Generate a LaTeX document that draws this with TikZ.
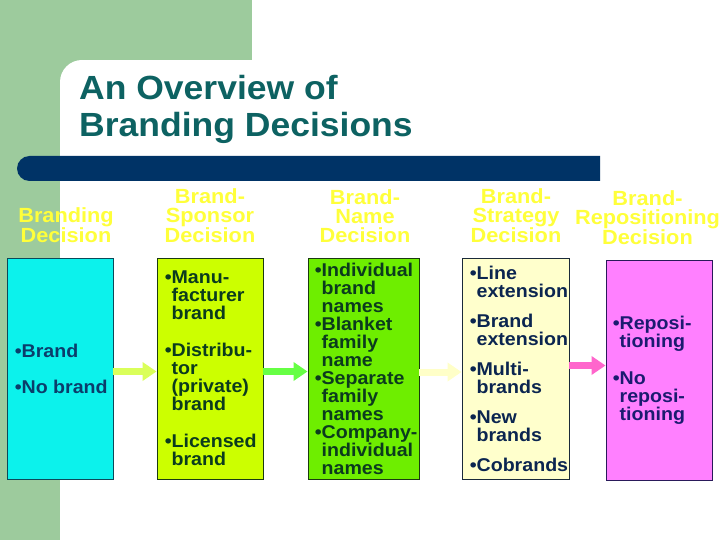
\documentclass[tikz,border=0pt]{standalone}
\usepackage{fontspec}
\setmainfont{Liberation Sans}[FakeStretch=1.06]
\usetikzlibrary{arrows.meta}
\definecolor{sage}{HTML}{9DCB9D}
\definecolor{barblue}{HTML}{003366}
\definecolor{titleteal}{HTML}{0D6262}
\definecolor{hdryellow}{HTML}{FFFF3A}
\definecolor{fillA}{HTML}{0CF2EC}
\definecolor{fillB}{HTML}{CCFF00}
\definecolor{fillC}{HTML}{6EEE00}
\definecolor{fillD}{HTML}{FFFFCC}
\definecolor{fillE}{HTML}{FF80FF}
\definecolor{edgeA}{HTML}{0B4A5A}
\definecolor{edgeB}{HTML}{1A3A10}
\definecolor{edgeD}{HTML}{1A2A3A}
\definecolor{edgeE}{HTML}{2A1A5A}
\definecolor{txtA}{HTML}{0B3D6B}
\definecolor{txtB}{HTML}{0B3B1E}
\definecolor{txtD}{HTML}{0B2550}
\definecolor{txtE}{HTML}{1B1B70}
\definecolor{arrA}{HTML}{DAFF5A}
\definecolor{arrB}{HTML}{66FF44}
\definecolor{arrC}{HTML}{FFFFC8}
\definecolor{arrD}{HTML}{FF66CC}
\newcommand\bl{\textbullet}
\newcommand\hb{\hphantom{\textbullet}}
\begin{document}
\begin{tikzpicture}[x=1pt,y=-1pt,
  hdr/.style={anchor=south, inner sep=0pt, align=center, text=hdryellow,
    font=\fontsize{20.5}{19}\selectfont\bfseries},
  boxst/.style={draw, line width=0.9pt, inner sep=0pt, minimum height=221pt},
  btxt/.style={anchor=west, inner sep=0pt, align=left,
    font=\fontsize{18.5}{18}\selectfont\bfseries},
  arr/.style={line width=7pt, -{Triangle[length=14pt,width=18pt]}}]
\useasboundingbox (0,0) rectangle (720,540);
\fill[white] (0,0) rectangle (720,540);
% green frame
\fill[sage] (0,0) rectangle (252,60);
\fill[sage] (0,0) rectangle (60,540);
\fill[sage] (60,60) rectangle (82,82);
\fill[white] (82,82) circle (22pt);
% bar
\fill[barblue] (600,156) [rounded corners=12.5pt] -- (17,156) -- (17,181) [sharp corners] -- (600,181) -- cycle;
% title
\node[anchor=north west, inner sep=0pt, align=left, text=titleteal,
  font=\fontsize{33.5}{37}\selectfont\bfseries] (title) at (79,75.5)
  {An Overview of\\Branding Decisions};
% headers
\node[hdr] (h1) at (66,243) {Branding\\Decision};
\node[hdr] (h2) at (210,243) {Brand-\\Sponsor\\Decision};
\node[hdr] (h3) at (365,243) {Brand-\\Name\\Decision};
\node[hdr] (h4) at (516,243) {Brand-\\Strategy\\Decision};
\node[hdr] (h5) at (647.5,245) {Brand-\\Repositioning\\Decision};
% boxes
\node[boxst, fill=fillA, draw=edgeA, minimum width=106pt] (b1) at (60,368.5) {};
\node[boxst, fill=fillB, draw=edgeB, minimum width=106pt] (b2) at (210,368.5) {};
\node[boxst, fill=fillC, draw=edgeB, minimum width=111pt] (b3) at (363.5,368.5) {};
\node[boxst, fill=fillD, draw=edgeD, minimum width=107pt] (b4) at (515.5,368.5) {};
\node[boxst, fill=fillE, draw=edgeE, minimum width=106pt, minimum height=220pt] (b5) at (659,370) {};
% box texts
\node[btxt, text=txtA] (t1) at ([xshift=8pt]b1.west) {\bl Brand\\[18pt]\bl No brand};
\node[btxt, text=txtB] (t2) at ([xshift=8pt]b2.west)
  {\bl Manu-\\\hb facturer\\\hb brand\\[19pt]\bl Distribu-\\\hb tor\\\hb (private)\\\hb brand\\[19pt]\bl Licensed\\\hb brand};
\node[btxt, text=txtB] (t3) at ([xshift=7pt]b3.west)
  {\bl Individual\\\hb brand\\\hb names\\\bl Blanket\\\hb family\\\hb name\\\bl Separate\\\hb family\\\hb names\\\bl Company-\\\hb individual\\\hb names};
\node[btxt, text=txtD] (t4) at ([xshift=8pt]b4.west)
  {\bl Line\\\hb extension\\[12pt]\bl Brand\\\hb extension\\[12pt]\bl Multi-\\\hb brands\\[12pt]\bl New\\\hb brands\\[12pt]\bl Cobrands};
\node[btxt, text=txtE] (t5) at ([xshift=7pt]b5.west)
  {\bl Reposi-\\\hb tioning\\[19pt]\bl No\\\hb reposi-\\\hb tioning};
% arrows
\coordinate (a1) at ([yshift=-3pt]b1.east);
\coordinate (a2) at ([yshift=-3pt]b2.east);
\coordinate (a3) at ([yshift=-3.5pt]b3.east);
\coordinate (a4) at ([yshift=3pt]b4.east);
\draw[arr, arrA] (a1) -- (a1 -| b2.west);
\draw[arr, arrB] (a2) -- (a2 -| b3.west);
\draw[arr, arrC] (a3) -- (a3 -| b4.west);
\draw[arr, arrD] (a4) -- (a4 -| b5.west);
\end{tikzpicture}
\end{document}
